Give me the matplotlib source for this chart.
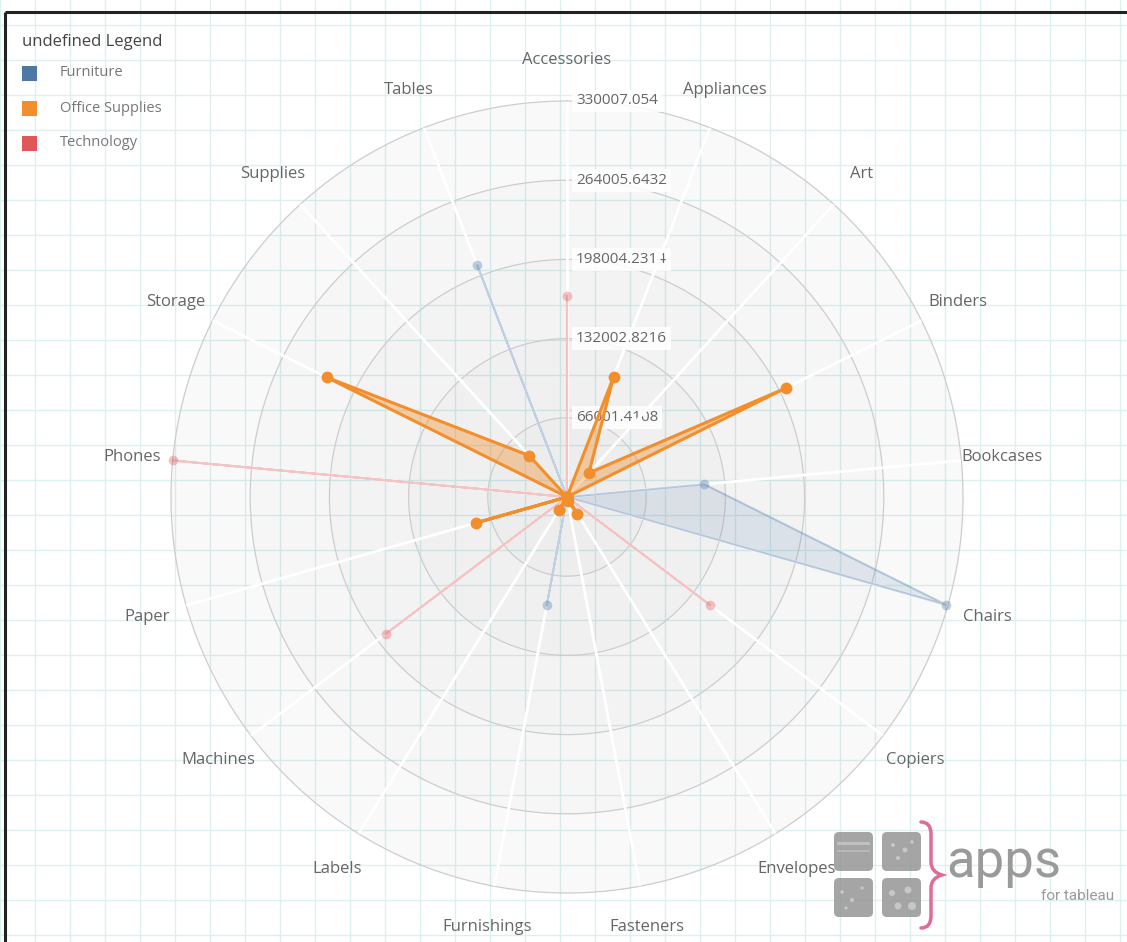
import numpy as np
import matplotlib
matplotlib.use("Agg")
import matplotlib.pyplot as plt
from matplotlib.patches import Rectangle, FancyBboxPatch, PathPatch
from matplotlib.path import Path

# ---------------- data ----------------
categories = ["Accessories", "Appliances", "Art", "Binders", "Bookcases", "Chairs",
              "Copiers", "Envelopes", "Fasteners", "Furnishings", "Labels", "Machines",
              "Paper", "Phones", "Storage", "Supplies", "Tables"]
furniture = [0, 0, 0, 0, 114880, 328449, 0, 0, 0, 91705, 0, 0, 0, 0, 0, 0, 206966]
office_supplies = [0, 107532, 27119, 203413, 0, 0, 0, 16476, 3024, 0, 12486, 0,
                   78479, 0, 223844, 46674, 0]
technology = [167380, 0, 0, 0, 0, 0, 149528, 0, 0, 0, 0, 189239, 0, 330007.054, 0, 0, 0]
series_names = ["Furniture", "Office Supplies", "Technology"]
series_colors = ["#4e79a7", "#f28e2b", "#e15759"]
tick_labels = ["66001.4108", "132002.8216", "198004.2314", "264005.6432", "330007.054"]
r_max = 330007.054
legend_title = "undefined Legend"

# ---------------- figure ----------------
plt.rcParams["font.family"] = ["Open Sans", "DejaVu Sans"]
W, H = 1127, 942
fig = plt.figure(figsize=(W / 100, H / 100), dpi=100)
fig.patch.set_facecolor("white")

bg = fig.add_axes([0, 0, 1, 1])
bg.set_xlim(0, W)
bg.set_ylim(H, 0)
bg.axis("off")
bg.set_zorder(0)
for x in np.arange(0, W + 1, 35):
    bg.plot([x, x], [0, H], color="#dcf0f0", lw=1.0)
for y in np.arange(25, H + 1, 35):
    bg.plot([0, W], [y, y], color="#dcf0f0", lw=1.0)
bg.plot([5, 5], [H, 12], color="#222222", lw=2.2, solid_capstyle="butt")
bg.plot([5, W], [12, 12], color="#222222", lw=2.2, solid_capstyle="butt")

# polar radar
CX, CY, R = 567, 497, 396
ax = fig.add_axes([(CX - R) / W, (H - CY - R) / H, 2 * R / W, 2 * R / H], projection="polar")
ax.set_zorder(1)
ax.set_theta_zero_location("N")
ax.set_theta_direction(-1)
ax.set_ylim(0, r_max)
ax.set_axis_off()

N = len(categories)
theta = np.arange(N) * 2 * np.pi / N
tt = np.linspace(0, 2 * np.pi, 361)
ring_vals = [r_max * (i + 1) / len(tick_labels) for i in range(len(tick_labels))]

# background shading
ax.fill(tt, np.full_like(tt, r_max), color="black", alpha=0.025, lw=0, zorder=1)
for rv in ring_vals[:-1]:
    ax.fill(tt, np.full_like(tt, rv), color="black", alpha=0.012, lw=0, zorder=1)
for k in range(1, 21):
    ax.fill(tt, np.full_like(tt, r_max * k / 20), color="black", alpha=0.0015, lw=0, zorder=1)

# rings
for rv in ring_vals:
    ax.plot(tt, np.full_like(tt, rv), color="#cdcdcd", lw=0.9, zorder=2, clip_on=False)

# tick labels
for rv, lab in zip(ring_vals, tick_labels):
    ax.annotate(lab, xy=(0, rv), xytext=(9, 0), textcoords="offset pixels",
                ha="left", va="center", fontsize=11, color="#666666", zorder=3,
                bbox=dict(boxstyle="square,pad=0.25", fc="white", ec="none", alpha=0.85))

# spokes
for th in theta:
    ax.plot([th, th], [0, r_max], color="white", lw=2.0, zorder=4, solid_capstyle="butt")


def draw(vals, color, line_alpha, fill_alpha, lw, ms, z):
    th = np.append(theta, theta[0])
    v = np.append(vals, vals[0])
    ax.fill(th, v, color=color, alpha=fill_alpha, lw=0, zorder=z)
    ax.plot(th, v, color=color, alpha=line_alpha, lw=lw, zorder=z + 0.1,
            solid_joinstyle="round", clip_on=False)
    ax.plot(theta, vals, "o", ms=ms, color=color, alpha=line_alpha, mec="none",
            zorder=z + 0.2, clip_on=False)


draw(furniture, series_colors[0], 0.35, 0.14, 1.5, 7, 5)
draw(technology, series_colors[2], 0.35, 0.08, 1.5, 7, 5.5)
draw(office_supplies, series_colors[1], 1.0, 0.38, 2.2, 8.5, 6)

# category labels
LR = 437
for th, name in zip(theta, categories):
    ax.text(th, r_max * LR / R, name, ha="center", va="center", fontsize=12,
            color="#666666", zorder=7)

# ---------------- overlay: legend + logo ----------------
fg = fig.add_axes([0, 0, 1, 1])
fg.set_xlim(0, W)
fg.set_ylim(H, 0)
fg.axis("off")
fg.set_zorder(3)
fg.patch.set_alpha(0)

fg.text(22, 42, legend_title, ha="left", va="center", fontsize=12, color="#444444")
for i, (nm, col) in enumerate(zip(series_names, series_colors)):
    yc = 73 + 35 * i
    fg.add_patch(Rectangle((22, yc - 7.5), 15, 15, fc=col, ec="none"))
    fg.text(60, yc, nm, ha="left", va="center", fontsize=10.5, color="#777777")

# logo
for (x0, y0) in [(834, 832), (882, 832), (834, 878), (882, 878)]:
    fg.add_patch(FancyBboxPatch((x0 + 3, y0 + 3), 33, 33, boxstyle="round,pad=3,rounding_size=5",
                                fc="#8f8f8f", ec="none", alpha=0.8))
fg.add_patch(Rectangle((837, 842), 33, 3, fc="#c8c8c8", ec="none", alpha=0.8))
fg.add_patch(Rectangle((837, 850), 33, 2, fc="#bdbdbd", ec="none", alpha=0.8))
for (dx, dy, s) in [(893, 845, 2), (905, 850, 2.5), (898, 858, 2), (912, 842, 1.8),
                    (842, 892, 1.8), (852, 900, 2), (862, 888, 1.6), (846, 908, 1.6),
                    (892, 893, 3), (908, 890, 3.5), (898, 906, 3.5), (912, 906, 4)]:
    fg.add_patch(plt.Circle((dx, dy), s, fc="#d0d0d0", ec="none", alpha=0.8))
brace = Path([(921, 822), (931, 822), (931, 834), (931, 862), (931, 872), (942, 875),
              (931, 878), (931, 888), (931, 916), (931, 928), (921, 928)],
             [Path.MOVETO, Path.CURVE3, Path.CURVE3, Path.LINETO, Path.CURVE3, Path.CURVE3,
              Path.CURVE3, Path.CURVE3, Path.LINETO, Path.CURVE3, Path.CURVE3])
fg.add_patch(PathPatch(brace, fc="none", ec="#e06a98", lw=2.5, capstyle="round"))
fg.text(946, 877, "apps", ha="left", va="baseline", fontsize=38, color="#9a9a9a",
        family=["Roboto", "DejaVu Sans"])
fg.text(1114, 900, "for tableau", ha="right", va="baseline", fontsize=11, color="#9a9a9a",
        family=["Roboto", "DejaVu Sans"])

fig.savefig("out.png", dpi=100, facecolor="white")
